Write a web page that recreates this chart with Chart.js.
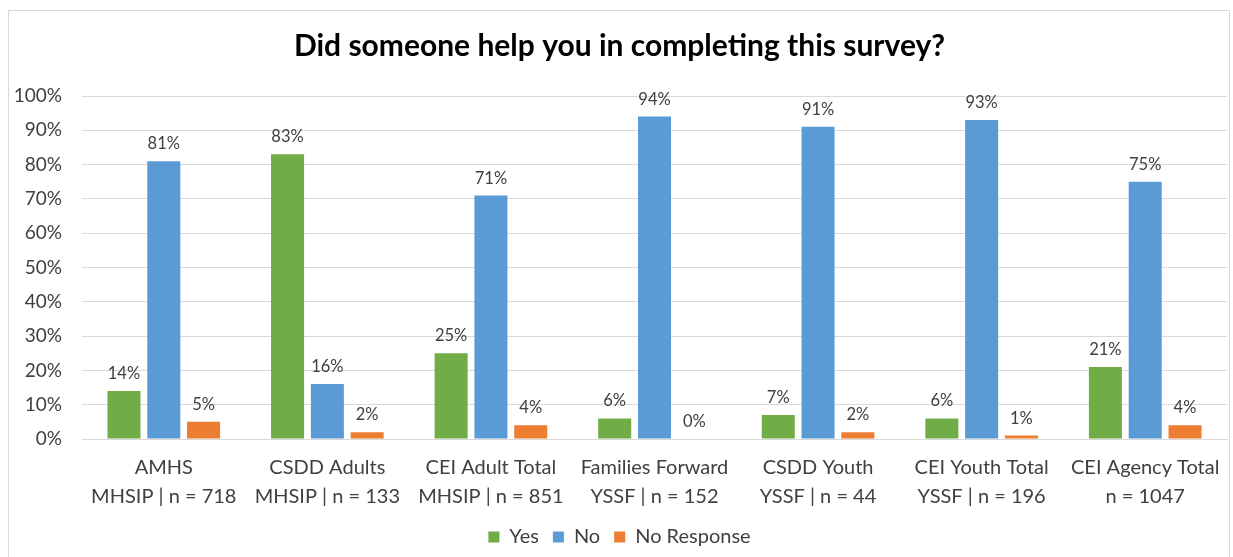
<!DOCTYPE html>
<html>
<head>
<meta charset="utf-8">
<script src="https://cdn.jsdelivr.net/npm/chart.js@4.4.1/dist/chart.umd.min.js"></script>
<style>
  html, body { margin: 0; padding: 0; background: #fff; }
  #frame {
    position: absolute; left: 8px; top: 10px;
    width: 1222px; height: 560px;
    border: 1px solid #d9d9d9; box-sizing: border-box;
  }
  #chart { display: block; }
</style>
</head>
<body>
<div id="frame"><canvas id="chart" width="1220" height="550"></canvas></div>
<script>
  // Survey groups, two-line axis labels
  const groups = [
    ['AMHS', 'MHSIP | n = 718'],
    ['CSDD Adults', 'MHSIP | n = 133'],
    ['CEI Adult Total', 'MHSIP | n = 851'],
    ['Families Forward', 'YSSF | n = 152'],
    ['CSDD Youth', 'YSSF | n = 44'],
    ['CEI Youth Total', 'YSSF | n = 196'],
    ['CEI Agency Total', 'n = 1047']
  ];
  const yesPct = [14, 83, 25, 6, 7, 6, 21];
  const noPct = [81, 16, 71, 94, 91, 93, 75];
  const noResponsePct = [5, 2, 4, 0, 2, 1, 4];

  const FONT = 'Lato, "Open Sans", sans-serif';

  // draws the percentage above every bar
  const barLabels = {
    id: 'barLabels',
    afterDatasetsDraw(chart) {
      const ctx = chart.ctx;
      ctx.save();
      ctx.font = '16.5px ' + FONT;
      ctx.fillStyle = '#404040';
      ctx.textAlign = 'center';
      ctx.textBaseline = 'bottom';
      chart.data.datasets.forEach((ds, i) => {
        chart.getDatasetMeta(i).data.forEach((bar, j) => {
          ctx.fillText(ds.data[j] + '%', bar.x, bar.y - 9);
        });
      });
      ctx.restore();
    }
  };

  new Chart(document.getElementById('chart'), {
    type: 'bar',
    data: {
      labels: groups,
      datasets: [
        { label: 'Yes', data: yesPct, backgroundColor: '#70ad47' },
        { label: 'No', data: noPct, backgroundColor: '#5b9bd5' },
        { label: 'No Response', data: noResponsePct, backgroundColor: '#ed7d31' }
      ]
    },
    options: {
      responsive: false,
      animation: false,
      layout: { padding: { left: 3, right: 2, top: 4, bottom: 4 } },
      datasets: {
        bar: { categoryPercentage: 0.73, barPercentage: 0.83 }
      },
      scales: {
        x: {
          grid: { display: false },
          border: { color: '#d9d9d9' },
          ticks: {
            color: '#404040',
            font: { family: FONT, size: 20, lineHeight: 1.45 },
            maxRotation: 0,
            padding: 6
          },
          afterFit: scale => { scale.height = 74; }
        },
        y: {
          min: 0,
          max: 100,
          ticks: {
            stepSize: 10,
            color: '#404040',
            padding: 20,
            font: { family: FONT, size: 19 },
            callback: v => v + '%'
          },
          grid: { color: '#d9d9d9', drawTicks: false },
          border: { display: false },
          afterFit: scale => { scale.width = 70; }
        }
      },
      plugins: {
        title: {
          display: true,
          text: 'Did someone help you in completing this survey?',
          color: '#000',
          font: { family: FONT, size: 30, weight: 'bold' },
          padding: { top: 13, bottom: 32 }
        },
        legend: {
          position: 'bottom',
          labels: {
            color: '#404040',
            font: { family: FONT, size: 20 },
            boxWidth: 11,
            boxHeight: 11,
            padding: 14
          }
        },
        tooltip: { enabled: false }
      }
    },
    plugins: [barLabels]
  });
</script>
</body>
</html>
